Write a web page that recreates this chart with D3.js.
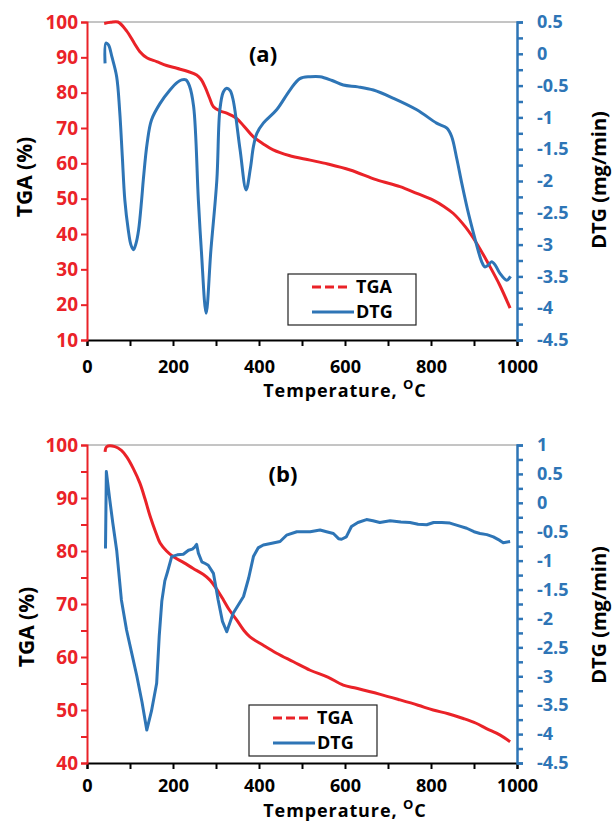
<!DOCTYPE html>
<html><head><meta charset="utf-8">
<script src="https://cdn.jsdelivr.net/npm/d3@7"></script>
<style>
body{margin:0;background:#fff}
svg{display:block;font-family:'Open Sans',sans-serif;font-weight:700}
</style></head>
<body><svg id="c" width="613" height="822"></svg>
<script>
// ---------- data: panel (a) ----------
const tempTgaA = [40, 55, 72, 92, 110, 123, 140, 162, 185, 209, 235, 255, 265, 275, 285, 294, 310, 325, 348, 365, 387, 410, 433, 470, 519, 560, 612, 674, 728, 767, 805, 830, 852, 880, 906, 937, 960, 984];
const tgaA     = [99.6, 99.9, 100, 97.5, 94, 91.6, 89.8, 88.8, 87.7, 86.9, 86, 85, 83.8, 81.5, 78.5, 76, 74.8, 74.2, 72.7, 70.5, 67.5, 65.5, 63.8, 62.2, 60.9, 59.8, 58.1, 55.3, 53.4, 51.5, 49.6, 47.8, 45.8, 42, 37.4, 30.8, 25.5, 19];
const tempDtgA = [42, 44, 50, 58, 69, 76, 82, 88, 96, 102, 108, 114, 120, 127, 131, 140, 150, 170, 193, 210, 220, 230, 238, 248, 259, 266, 277, 288, 302, 309, 317, 325, 333, 340, 356, 370, 380, 387, 395, 410, 441, 472, 495, 519, 542, 570, 596, 630, 666, 713, 767, 813, 837, 848, 860, 872, 885, 898, 910, 918, 925, 932, 941, 950, 960, 976, 985];
const dtgA     = [-0.15, 0.17, 0.14, -0.05, -0.36, -0.9, -1.6, -2.3, -2.77, -3.0, -3.08, -2.98, -2.77, -2.3, -1.98, -1.4, -1.04, -0.78, -0.57, -0.45, -0.41, -0.41, -0.5, -0.83, -2.3, -3.1, -4.08, -3.1, -1.98, -0.88, -0.6, -0.54, -0.58, -0.73, -1.51, -2.14, -1.8, -1.46, -1.25, -1.09, -0.88, -0.57, -0.39, -0.36, -0.36, -0.42, -0.49, -0.52, -0.57, -0.70, -0.88, -1.09, -1.17, -1.3, -1.65, -2.05, -2.45, -2.8, -3.1, -3.27, -3.35, -3.33, -3.27, -3.33, -3.45, -3.56, -3.50];

// ---------- data: panel (b) ----------
const tempTgaB = [42, 46, 65, 80, 92, 108, 123, 135, 147, 160, 170, 185, 201, 225, 247, 270, 286, 300, 317, 330, 348, 365, 379, 410, 441, 480, 519, 560, 596, 627, 680, 728, 770, 805, 840, 875, 905, 929, 960, 984];
const tgaB     = [98.7, 99.7, 99.7, 99, 97.8, 95.5, 92.8, 89.8, 86.5, 83.5, 81.5, 80, 78.9, 77.8, 76.7, 75.6, 74.5, 73, 70.8, 69, 67, 65, 63.8, 62.2, 60.7, 59.1, 57.5, 56.2, 54.7, 54.1, 53, 51.9, 50.9, 50, 49.3, 48.4, 47.5, 46.5, 45.3, 44];
const tempDtgB = [43, 45, 53, 60, 69, 80, 92, 104, 116, 128, 139, 150, 162, 168, 174, 181, 187, 197, 210, 224, 236, 245, 251, 255, 259, 267, 275, 282, 294, 305, 315, 325, 340, 364, 376, 387, 398, 410, 430, 449, 464, 488, 519, 542, 557, 573, 585, 592, 603, 615, 630, 650, 665, 681, 705, 730, 751, 770, 790, 806, 825, 844, 865, 883, 900, 914, 930, 945, 960, 968, 984];
const dtgB     = [-0.79, 0.54, 0.05, -0.35, -0.82, -1.68, -2.2, -2.6, -3.0, -3.45, -3.93, -3.6, -3.12, -2.3, -1.7, -1.35, -1.2, -0.93, -0.9, -0.89, -0.82, -0.8, -0.76, -0.72, -0.87, -1.02, -1.05, -1.08, -1.22, -1.68, -2.05, -2.23, -1.91, -1.62, -1.3, -0.93, -0.78, -0.73, -0.7, -0.67, -0.56, -0.5, -0.5, -0.47, -0.5, -0.53, -0.62, -0.63, -0.59, -0.41, -0.34, -0.29, -0.31, -0.34, -0.31, -0.33, -0.34, -0.37, -0.38, -0.34, -0.34, -0.35, -0.4, -0.44, -0.5, -0.53, -0.55, -0.59, -0.65, -0.69, -0.67];

// ---------- tick labels ----------
const xTicks      = [0, 200, 400, 600, 800, 1000];
const xMinorTicks = [100, 300, 500, 700, 900];
const tgaTicksA   = [10, 20, 30, 40, 50, 60, 70, 80, 90, 100];
const dtgTicksA   = [0.5, 0, -0.5, -1, -1.5, -2, -2.5, -3, -3.5, -4, -4.5];
const tgaTicksB   = [40, 50, 60, 70, 80, 90, 100];
const tgaMinorB   = [45, 55, 65, 75, 85, 95];
const dtgTicksB   = [1, 0.5, 0, -0.5, -1, -1.5, -2, -2.5, -3, -3.5, -4, -4.5];
const seriesNames = ["TGA", "DTG"];
const panelLabels = ["(a)", "(b)"];

const RED = "#ea2228", BLUE = "#2e75b6";
const svg = d3.select("#c");
const fmt = d => String(d);

function minorOf(ticks){
  const out=[]; const s=[...ticks].sort((a,b)=>a-b);
  for(let i=0;i<s.length-1;i++) out.push((s[i]+s[i+1])/2);
  return out;
}

function panel(o){
  const L=87, R=517;
  const x  = d3.scaleLinear().domain([0,1000]).range([L,R]);
  const y1 = d3.scaleLinear().domain(o.y1dom).range([o.bottom,o.top]);
  const y2 = d3.scaleLinear().domain(o.y2dom).range([o.bottom,o.top]);
  const g = svg.append("g");

  g.append("line").attr("x1",L).attr("x2",R).attr("y1",o.top).attr("y2",o.top)
    .attr("stroke","#8a8a8a").attr("stroke-width",1);

  // curves
  const tgaLine = d3.line().x((d,i)=>x(o.tT[i])).y(d=>y1(d)).curve(d3.curveCatmullRom.alpha(0.5));
  g.append("path").datum(o.tga).attr("d",tgaLine).attr("fill","none")
    .attr("stroke",RED).attr("stroke-width",3).attr("stroke-linejoin","round");
  const dtgLine = d3.line().x((d,i)=>x(o.tD[i])).y(d=>y2(d)).curve(o.dtgCurve);
  g.append("path").datum(o.dtg).attr("d",dtgLine).attr("fill","none")
    .attr("stroke",BLUE).attr("stroke-width",3).attr("stroke-linejoin","round");

  // x axis
  const xa = g.append("g").attr("transform",`translate(0,${o.bottom})`)
    .call(d3.axisBottom(x).tickValues([...xTicks,...xMinorTicks]).tickSize(6).tickPadding(o.xPad)
      .tickFormat(d=> xTicks.includes(d)? fmt(d):""));
  xa.select(".domain").attr("stroke","#000").attr("stroke-width",2);
  xa.selectAll(".tick line").attr("stroke","#000").attr("stroke-width",2);
  xa.selectAll("text").attr("fill","#000").style("font-size","18px").style("font-family","'Open Sans',sans-serif").style("font-weight",700);

  // left axis
  const la = g.append("g").attr("transform",`translate(${L},0)`)
    .call(d3.axisLeft(y1).tickValues([...o.y1ticks,...o.y1minor]).tickSize(6).tickPadding(3)
      .tickFormat(d=> o.y1ticks.includes(d)? fmt(d):""));
  la.select(".domain").attr("stroke",RED).attr("stroke-width",2);
  la.selectAll(".tick line").attr("stroke",RED).attr("stroke-width",2);
  la.selectAll("text").attr("fill",RED).style("font-size","19px").style("font-family","'Open Sans',sans-serif").style("font-weight",700);

  // right axis
  const ra = g.append("g").attr("transform",`translate(${R},0)`)
    .call(d3.axisRight(y2).tickValues([...o.y2ticks,...minorOf(o.y2ticks)]).tickSize(6).tickPadding(14)
      .tickFormat(d=> o.y2ticks.includes(d)? fmt(d):""));
  ra.select(".domain").attr("stroke",BLUE).attr("stroke-width",2.5);
  ra.selectAll(".tick line").attr("stroke",BLUE).attr("stroke-width",2.5);
  ra.selectAll("text").attr("fill",BLUE).style("font-size","18px").style("font-family","'Open Sans',sans-serif").style("font-weight",700);

  // axis titles
  g.append("text").attr("transform",`translate(${o.tgaTitleX},${o.tgaTitleY}) rotate(-90)`)
    .attr("text-anchor","middle").attr("font-size",21).attr("fill","#000").text("TGA (%)");
  g.append("text").attr("transform",`translate(${o.dtgTitleX},${o.dtgTitleY}) rotate(-90)`)
    .attr("text-anchor","middle").attr("font-size",20).attr("fill","#000").text("DTG (mg/min)");
  const xt = g.append("text").attr("x",o.xTitleX).attr("y",o.xTitleY).attr("text-anchor","middle")
    .attr("font-size",18).attr("letter-spacing",0.9).attr("fill","#000");
  xt.append("tspan").text("Temperature, ");
  xt.append("tspan").attr("font-size",13).attr("dy",-8).text("O");
  xt.append("tspan").attr("dy",8).text("C");

  // panel label
  g.append("text").attr("x",o.labX).attr("y",o.labY).attr("text-anchor","middle")
    .attr("font-size",22).attr("fill","#000").text(o.label);

  // legend
  const lg = g.append("g").attr("transform",`translate(${o.legX},${o.legY})`);
  lg.append("rect").attr("x",0).attr("y",0).attr("width",128).attr("height",51)
    .attr("fill","#fff").attr("stroke","#222").attr("stroke-width",1.2);
  lg.append("line").attr("x1",24).attr("x2",60).attr("y1",13).attr("y2",13)
    .attr("stroke",RED).attr("stroke-width",3).attr("stroke-dasharray","9,4");
  lg.append("line").attr("x1",24).attr("x2",66).attr("y1",38).attr("y2",38)
    .attr("stroke",BLUE).attr("stroke-width",3);
  lg.append("text").attr("x",68).attr("y",13).attr("dy","0.35em").attr("font-size",18).attr("fill","#000").text(seriesNames[0]);
  lg.append("text").attr("x",68).attr("y",38).attr("dy","0.35em").attr("font-size",18).attr("fill","#000").text(seriesNames[1]);
}

panel({top:22,bottom:340,y1dom:[10,100],y2dom:[-4.5,0.5],y1ticks:tgaTicksA,y1minor:[],y2ticks:dtgTicksA,
  tT:tempTgaA,tga:tgaA,tD:tempDtgA,dtg:dtgA,dtgCurve:d3.curveCatmullRom.alpha(0.5),xPad:14,
  tgaTitleX:32,tgaTitleY:177,dtgTitleX:606,dtgTitleY:180,xTitleX:345,xTitleY:397,
  labX:263,labY:62,label:panelLabels[0],legX:288,legY:274});

panel({top:445,bottom:763,y1dom:[40,100],y2dom:[-4.5,1],y1ticks:tgaTicksB,y1minor:tgaMinorB,y2ticks:dtgTicksB,
  tT:tempTgaB,tga:tgaB,tD:tempDtgB,dtg:dtgB,dtgCurve:d3.curveLinear,xPad:10,
  tgaTitleX:34,tgaTitleY:627,dtgTitleX:606,dtgTitleY:615,xTitleX:345,xTitleY:816.5,
  labX:283,labY:482,label:panelLabels[1],legX:249,legY:705});
</script></body></html>
